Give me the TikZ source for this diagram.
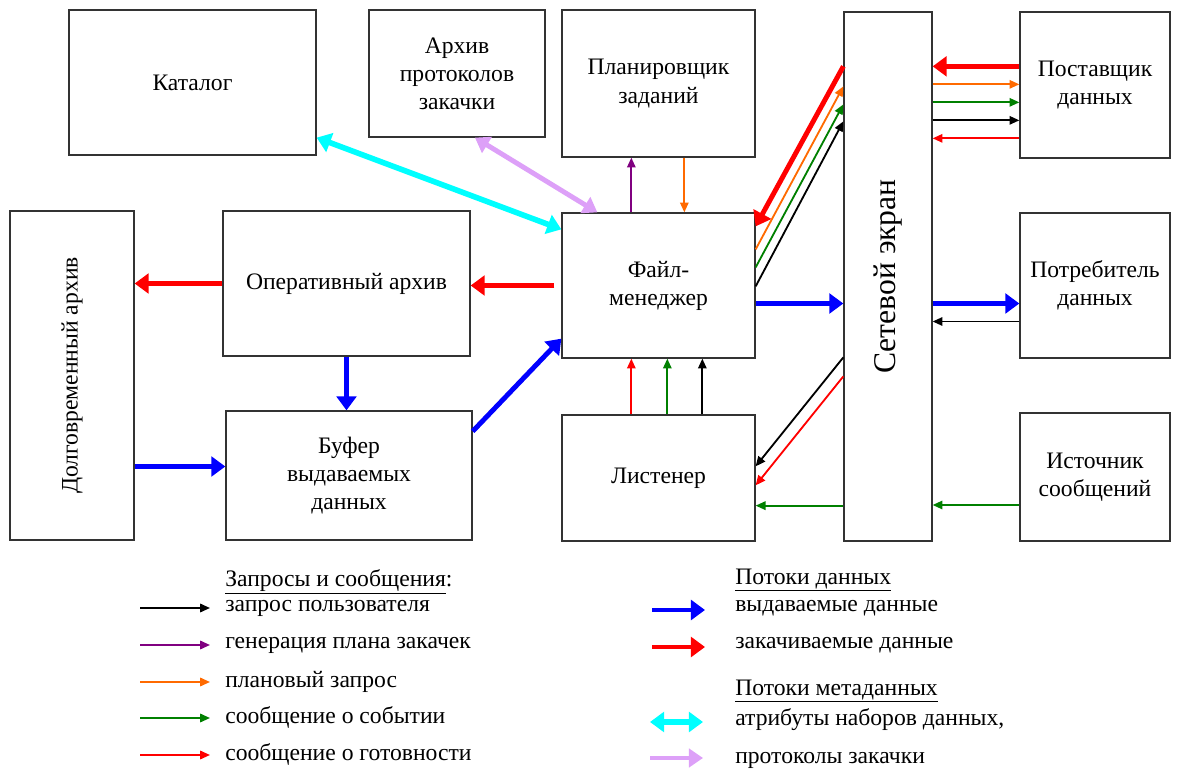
\documentclass[tikz,border=0pt]{standalone}
\usepackage{fontspec}
\setmainfont{Liberation Serif}
\usetikzlibrary{arrows.meta, calc}
\definecolor{dmred}{HTML}{FF0000}
\definecolor{dmblue}{HTML}{0000FF}
\definecolor{dmgreen}{HTML}{008000}
\definecolor{dmorange}{HTML}{FF6A00}
\definecolor{dmpurple}{HTML}{800080}
\definecolor{dmcyan}{HTML}{00FFFF}
\definecolor{dmviolet}{HTML}{DDA0F8}
\tikzset{
  box/.style={rectangle, draw=black!80, line width=0.9pt, align=center, inner sep=2pt,
              font=\fontsize{16.8}{20}\selectfont},
  lbl/.style={anchor=west, inner sep=0pt, font=\fontsize{16.8}{20}\selectfont},
  thin/.style={-{Triangle[length=7pt, width=6pt]}, line width=1.3pt},
  flowk/.style={thin, draw=black},
  flowp/.style={thin, draw=dmpurple},
  flowo/.style={thin, draw=dmorange},
  flowg/.style={thin, draw=dmgreen},
  flowr/.style={thin, draw=dmred},
  thick/.style={-{Triangle[length=10pt, width=14pt]}, line width=3.5pt},
  datab/.style={thick, draw=dmblue},
  datar/.style={thick, draw=dmred},
  metac/.style={{Triangle[length=10pt, width=14pt]}-{Triangle[length=10pt, width=14pt]},
                line width=4pt, draw=dmcyan},
  metav/.style={{Triangle[length=10pt, width=13pt]}-{Triangle[length=10pt, width=13pt]},
                line width=3.5pt, draw=dmviolet},
}

\begin{document}
\begin{tikzpicture}[x=0.025cm, y=-0.025cm]
  \useasboundingbox (0,0) rectangle (1180,774);
  \node[box, minimum width=6.175cm, minimum height=3.625cm] (kat) at (192.5,82.5) {Каталог};
  \node[box, minimum width=4.4cm, minimum height=3.175cm] (arch) at (457,73.5) {Архив\\протоколов\\закачки};
  \node[box, minimum width=4.825cm, minimum height=3.675cm] (plan) at (658.5,83.5) {Планировщик\\заданий};
  \node[box, rotate=90, minimum width=13.225cm, minimum height=2.2cm,
        font=\fontsize{22.5}{26}\selectfont] (fw) at (888,276.5) {Сетевой экран};
  \node[box, minimum width=3.75cm, minimum height=3.65cm] (prov) at (1095,85) {Поставщик\\данных};
  \node[box, rotate=90, minimum width=8.225cm, minimum height=3.1cm] (lta) at (72,375.5) {Долговременный архив};
  \node[box, minimum width=6.175cm, minimum height=3.625cm] (opa) at (346.5,283.5) {Оперативный архив};
  \node[box, minimum width=4.825cm, minimum height=3.625cm] (fm) at (658.5,285.5) {Файл-\\менеджер};
  \node[box, minimum width=3.75cm, minimum height=3.625cm] (cons) at (1095,285.5) {Потребитель\\данных};
  \node[box, minimum width=6.15cm, minimum height=3.225cm] (buf) at (349,475.5) {Буфер\\выдаваемых\\данных};
  \node[box, minimum width=4.825cm, minimum height=3.15cm] (lis) at (658.5,478) {Листенер};
  \node[box, minimum width=3.75cm, minimum height=3.2cm] (src) at (1095,477) {Источник\\сообщений};

  \draw[metac] ($(kat.south east)+(0,-18)$) -- ($(fm.north west)+(0,17)$);
  \draw[metav] ($(arch.south)+(18,0)$) -- ($(fm.north west)+(36,0)$);
  \draw[flowp] ($(fm.north west)+(70,0)$) -- ($(plan.south west)+(70,0)$);
  \draw[flowo] ($(plan.south west)+(123,0)$) -- ($(fm.north west)+(123,0)$);
  \draw[flowr] ($(lis.north west)+(70,0)$) -- ($(fm.south west)+(70,0)$);
  \draw[flowg] ($(lis.north west)+(106,0)$) -- ($(fm.south west)+(106,0)$);
  \draw[flowk] ($(lis.north west)+(141,0)$) -- ($(fm.south west)+(141,0)$);

  \draw[datar, shorten <=5pt] (fm.west) -- (fm.west -| opa.east);
  \draw[datar] (opa.west) -- (opa.west -| lta.south);
  \draw[datab] (opa.south) -- (opa.south |- buf.north);
  \draw[datab] ($(lta.south |- buf.west)+(0,-9)$) -- ($(buf.west)+(0,-9)$);
  \draw[datab] ($(buf.north east)+(0,21)$) -- ($(fm.south west)+(0,-20)$);
  \draw[datab] ($(fm.east)+(0,18)$) -- ($(fm.east -| fw.north)+(0,18)$);
  \draw[datab] ($(cons.west -| fw.south)+(0,18)$) -- ($(cons.west)+(0,18)$);
  \draw[flowk] ($(cons.west)+(0,36)$) -- ($(cons.west -| fw.south)+(0,36)$);

  \draw[datar] ($(fm.north east -| fw.north)+(0,-146)$) -- ($(fm.north east)+(0,14)$);
  \draw[flowo] ($(fm.north east)+(0,37)$) -- ($(fm.north east -| fw.north)+(0,-126)$);
  \draw[flowg] ($(fm.north east)+(0,55)$) -- ($(fm.north east -| fw.north)+(0,-108)$);
  \draw[flowk] ($(fm.north east)+(0,74)$) -- ($(fm.north east -| fw.north)+(0,-91)$);

  \draw[datar] ($(prov.north west)+(0,55)$) -- ($(prov.north west -| fw.south)+(0,55)$);
  \draw[flowo] ($(prov.north west -| fw.south)+(0,73)$) -- ($(prov.north west)+(0,73)$);
  \draw[flowg] ($(prov.north west -| fw.south)+(0,91)$) -- ($(prov.north west)+(0,91)$);
  \draw[flowk] ($(prov.north west -| fw.south)+(0,109)$) -- ($(prov.north west)+(0,109)$);
  \draw[flowr] ($(prov.north west)+(0,127)$) -- ($(prov.north west -| fw.south)+(0,127)$);

  \draw[flowk] ($(lis.north east -| fw.north)+(0,-57)$) -- ($(lis.north east)+(0,52)$);
  \draw[flowr] ($(lis.north east -| fw.north)+(0,-38)$) -- ($(lis.north east)+(0,71)$);
  \draw[flowg] ($(lis.south east -| fw.north)+(0,-36)$) -- ($(lis.south east)+(0,-36)$);
  \draw[flowg] ($(src.west)+(0,28)$) -- ($(src.west -| fw.south)+(0,28)$);

  \node[lbl] (h1) at (225,582) {\underline{Запросы и сообщения}:};
  \node[lbl] (l1) at (225,608) {запрос пользователя};
  \node[lbl] (l2) at (225,645) {генерация плана закачек};
  \node[lbl] (l3) at (225,682) {плановый запрос};
  \node[lbl] (l4) at (225,718) {сообщение о событии};
  \node[lbl] (l5) at (225,755) {сообщение о готовности};
  \draw[flowk] ($(l1.west)+(-85,0)$) -- ($(l1.west)+(-15,0)$);
  \draw[flowp] ($(l2.west)+(-85,0)$) -- ($(l2.west)+(-15,0)$);
  \draw[flowo] ($(l3.west)+(-85,0)$) -- ($(l3.west)+(-15,0)$);
  \draw[flowg] ($(l4.west)+(-85,0)$) -- ($(l4.west)+(-15,0)$);
  \draw[flowr] ($(l5.west)+(-85,0)$) -- ($(l5.west)+(-15,0)$);

  \node[lbl] (h2) at (735,580) {\underline{Потоки данных}};
  \node[lbl] (d1) at (735,608) {выдаваемые данные};
  \node[lbl] (d2) at (735,645) {закачиваемые данные};
  \node[lbl] (h3) at (735,691) {\underline{Потоки метаданных}};
  \node[lbl] (m1) at (735,720) {атрибуты наборов данных,};
  \node[lbl] (m2) at (735,760) {протоколы закачки};
  \draw[datab] ($(d1.west)+(-83,2)$) -- ($(d1.west)+(-30,2)$);
  \draw[datar] ($(d2.west)+(-83,2)$) -- ($(d2.west)+(-30,2)$);
  \draw[metac] ($(m1.west)+(-85,2)$) -- ($(m1.west)+(-32,2)$);
  \draw[metav, {Triangle[length=10pt, width=13pt]}-] ($(m2.west)+(-32,-2)$) -- ($(m2.west)+(-85,-2)$);
\end{tikzpicture}
\end{document}
